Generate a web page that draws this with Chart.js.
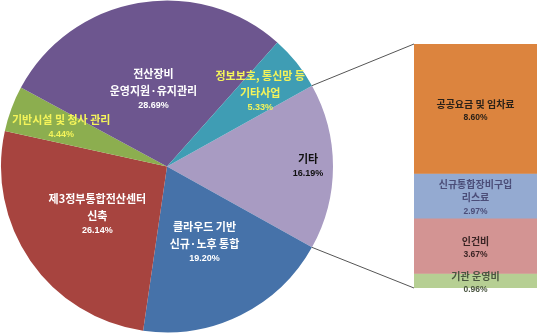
<!DOCTYPE html>
<html>
<head>
<meta charset="utf-8">
<script src="https://cdn.jsdelivr.net/npm/chart.js@4.4.0/dist/chart.umd.min.js"></script>
<style>
  html, body { margin:0; padding:0; background:#fff; }
  #wrap { position:relative; width:540px; height:335px; }
  #wrap canvas { position:absolute; left:0; top:0; }
</style>
</head>
<body>
<div id="wrap">
  <canvas id="pie" width="540" height="335"></canvas>
  <canvas id="bar" width="540" height="335"></canvas>
</div>
<script>
// pie slices, clockwise from the exploded "기타" slice
const pieNames = [['기타'], ['클라우드 기반','신규·노후 통합'], ['제3정부통합전산센터','신축'], ['기반시설 및 청사 관리'], ['전산장비','운영지원·유지관리'], ['정보보호, 통신망 등','기타사업']];
const pieValues = [16.19, 19.20, 26.14, 4.44, 28.69, 5.33];
// breakdown of "기타", top to bottom
const barNames = [['공공요금 및 임차료'], ['신규통합장비구입','리스료'], ['인건비'], ['기관 운영비']];
const barValues = [8.60, 2.97, 3.67, 0.96];

const pieColors = ['#A89BC2','#4672A9','#A7443F','#8CAE4F','#6D568F','#3F9DB4'];
const pieText = ['#111','#fff','#fff','#F4F45A','#fff','#F4F45A'];
const pieLabelR = [0.85, 0.51, 0.51, 0.68, 0.47, 0.72];
const barColors = ['#DC843E','#94AAD1','#D39493','#B6CF93'];
const barText = ['#2a2118','#4b4d78','#3a2424','#4a5540'];

const KR = "'Noto Sans CJK KR', 'Noto Sans', sans-serif";
const fmt = v => v.toFixed(2) + '%';

function drawBlock(ctx, x, y, lines, pct, color, nameFont, pctFont, lh, ph){
  const h = (lines.length - 1) * lh + ph;
  let yy = y - h / 2;
  ctx.fillStyle = color; ctx.textAlign = 'center'; ctx.textBaseline = 'middle';
  ctx.font = nameFont;
  lines.forEach((l, i) => { ctx.fillText(l, x, yy); yy += (i < lines.length - 1) ? lh : ph; });
  ctx.font = pctFont;
  ctx.fillText(pct, x, yy);
}

const total = pieValues.reduce((a,b)=>a+b,0);

const pie = new Chart(document.getElementById('pie'), {
  type: 'pie',
  data: { labels: pieNames.map(n => n.join(' ')), datasets: [{ data: pieValues, backgroundColor: pieColors, borderWidth: 0 }] },
  options: {
    responsive: false, animation: false,
    rotation: 90 - pieValues[0] / total * 180,
    layout: { padding: { left: 1, top: 0, right: 207, bottom: 2 } },
    plugins: { legend: { display: false }, tooltip: { enabled: false } }
  },
  plugins: [{
    id: 'sliceLabels',
    afterDatasetsDraw(c){
      const ctx = c.ctx;
      ctx.save();
      c.getDatasetMeta(0).data.forEach((arc, i) => {
        const mid = (arc.startAngle + arc.endAngle) / 2;
        const r = arc.outerRadius * pieLabelR[i];
        drawBlock(ctx, arc.x + Math.cos(mid) * r, arc.y + Math.sin(mid) * r, pieNames[i], fmt(pieValues[i]),
          pieText[i], 'bold 11px ' + KR, 'bold 9px "Liberation Sans", Arial, sans-serif', 17, 15);
      });
      ctx.restore();
    }
  }]
});

const barSum = barValues.reduce((a,b)=>a+b,0);

new Chart(document.getElementById('bar'), {
  type: 'bar',
  data: {
    labels: ['기타'],
    datasets: barValues.map((v, i) => ({ label: barNames[i].join(' '), data: [v], backgroundColor: barColors[i],
      borderWidth: 0, barPercentage: 1, categoryPercentage: 1 }))
  },
  options: {
    responsive: false, animation: false,
    layout: { padding: { left: 414, top: 44, right: 3, bottom: 47 } },
    scales: {
      x: { display: false, stacked: true },
      y: { display: false, stacked: true, reverse: true, min: 0, max: barSum }
    },
    plugins: { legend: { display: false }, tooltip: { enabled: false } }
  },
  plugins: [{
    id: 'connect',
    afterDatasetsDraw(c){
      const ctx = c.ctx;
      const arc = pie.getDatasetMeta(0).data[0];
      const first = c.getDatasetMeta(0).data[0], last = c.getDatasetMeta(barValues.length - 1).data[0];
      const left = first.x - first.width / 2;
      ctx.save();
      ctx.strokeStyle = '#555'; ctx.lineWidth = 1;
      ctx.beginPath();
      ctx.moveTo(arc.x + Math.cos(arc.startAngle) * arc.outerRadius, arc.y + Math.sin(arc.startAngle) * arc.outerRadius);
      ctx.lineTo(left, Math.min(first.y, first.base));
      ctx.moveTo(arc.x + Math.cos(arc.endAngle) * arc.outerRadius, arc.y + Math.sin(arc.endAngle) * arc.outerRadius);
      ctx.lineTo(left, Math.max(last.y, last.base));
      ctx.stroke();
      barValues.forEach((v, i) => {
        const b = c.getDatasetMeta(i).data[0];
        let cy = (b.y + b.base) / 2 + 2;
        drawBlock(ctx, b.x, cy, barNames[i], fmt(v), barText[i], 'bold 10px ' + KR,
          'bold 8.5px "Liberation Sans", Arial, sans-serif', 13, 14);
      });
      ctx.restore();
    }
  }]
});
</script>
</body>
</html>
